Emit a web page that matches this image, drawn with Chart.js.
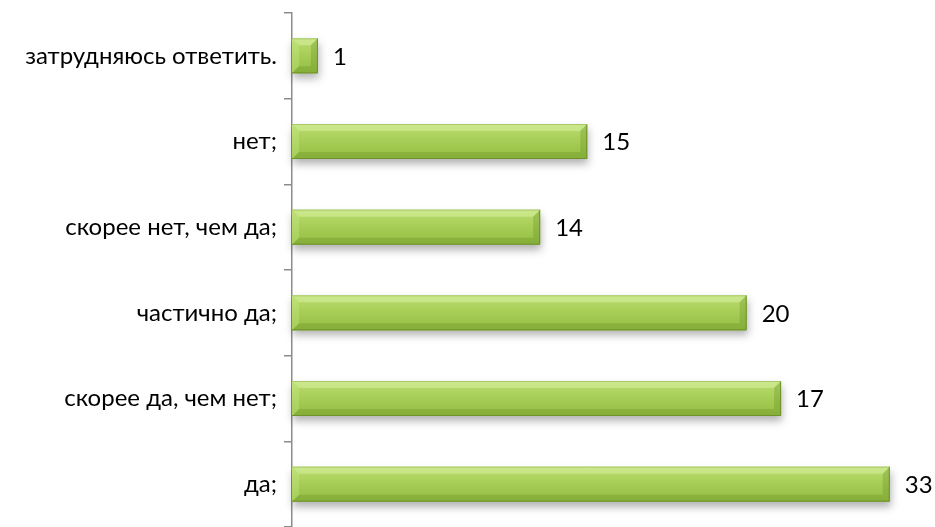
<!DOCTYPE html>
<html>
<head>
<meta charset="utf-8">
<script src="https://cdn.jsdelivr.net/npm/chart.js@4"></script>
<style>
  html, body { margin: 0; padding: 0; background: #fff; }
  #wrap { width: 935px; height: 527px; }
</style>
</head>
<body>
<div id="wrap"><canvas id="myChart"></canvas></div>
<script>
// categorias (de cima para baixo)
const categorias = [
  'затрудняюсь ответить.',
  'нет;',
  'скорее нет, чем да;',
  'частично да;',
  'скорее да, чем нет;',
  'да;'
];

// valores escritos ao lado das barras
const rotulos = [1, 15, 14, 20, 17, 33];

// comprimento das barras como aparece na figura (mesma escala do 33)
const comprimentos = [1.43, 16.3, 13.7, 25.1, 27.0, 33];

const fonte = "Lato, 'Open Sans', sans-serif";

// bisel e sombra das barras
const bisel = {
  id: 'bisel',
  afterDatasetsDraw(chart) {
    const ctx = chart.ctx;
    const meta = chart.getDatasetMeta(0);
    meta.data.forEach(function (bar, i) {
      const L = bar.base, R = bar.x;
      const T = bar.y - bar.height / 2, B = bar.y + bar.height / 2;
      const b = Math.min(7, (R - L) / 2);
      ctx.save();
      // sombra
      ctx.shadowColor = 'rgba(0,0,0,0.3)';
      ctx.shadowBlur = 8;
      ctx.shadowOffsetY = 5;
      ctx.shadowOffsetX = 1;
      const g = ctx.createLinearGradient(0, T, 0, B);
      g.addColorStop(0, '#bcdd70');
      g.addColorStop(0.5, '#a6cd55');
      g.addColorStop(1, '#93bd42');
      ctx.fillStyle = g;
      ctx.fillRect(L, T, R - L, B - T);
      ctx.restore();

      ctx.save();
      function face(pts, cor) {
        ctx.beginPath();
        ctx.moveTo(pts[0][0], pts[0][1]);
        for (let k = 1; k < pts.length; k++) ctx.lineTo(pts[k][0], pts[k][1]);
        ctx.closePath();
        ctx.fillStyle = cor;
        ctx.fill();
      }
      face([[L, T], [R, T], [R - b, T + b], [L + b, T + b]], 'rgba(215,240,160,0.55)');
      face([[L, B], [R, B], [R - b, B - b], [L + b, B - b]], 'rgba(110,150,40,0.35)');
      face([[L, T], [L + b, T + b], [L + b, B - b], [L, B]], 'rgba(200,235,140,0.35)');
      face([[R, T], [R - b, T + b], [R - b, B - b], [R, B]], 'rgba(100,140,35,0.3)');
      // borda escura embaixo e na direita
      ctx.strokeStyle = '#6f922a';
      ctx.lineWidth = 1;
      ctx.beginPath();
      ctx.moveTo(L, B - 0.5);
      ctx.lineTo(R - 0.5, B - 0.5);
      ctx.lineTo(R - 0.5, T);
      ctx.stroke();
      ctx.strokeStyle = '#a8c86a';
      ctx.beginPath();
      ctx.moveTo(L, T + 0.5);
      ctx.lineTo(R - 0.5, T + 0.5);
      ctx.stroke();

      // rotulo
      ctx.fillStyle = '#000';
      ctx.font = '24px ' + fonte;
      ctx.textBaseline = 'middle';
      ctx.textAlign = 'left';
      ctx.fillText(String(rotulos[i]), R + 15, bar.y + 1);
      ctx.restore();
    });
  }
};

const data = {
  labels: categorias,
  datasets: [{
    data: comprimentos,
    backgroundColor: 'rgba(0,0,0,0)',
    borderWidth: 0,
    barThickness: 35
  }]
};

const config = {
  type: 'bar',
  data: data,
  options: {
    indexAxis: 'y',
    responsive: true,
    maintainAspectRatio: false,
    animation: false,
    layout: { padding: { top: 13, right: 9, bottom: 0, left: 0 } },
    plugins: {
      legend: { display: false },
      tooltip: { enabled: false }
    },
    scales: {
      x: {
        display: false,
        min: 0,
        max: 35
      },
      y: {
        afterFit: function (scale) {
          scale.width = 292;
          scale.paddingTop = 0;
          scale.paddingBottom = 0;
        },
        border: { display: true, color: '#8c8c8c', width: 1.5 },
        grid: {
          display: true,
          drawOnChartArea: false,
          offset: true,
          tickLength: 8,
          color: '#8c8c8c',
          lineWidth: 1.5
        },
        ticks: {
          color: '#000',
          padding: 7,
          font: { family: fonte, size: 24 }
        }
      }
    }
  },
  plugins: [bisel]
};

const myChart = new Chart(document.getElementById('myChart'), config);
</script>
</body>
</html>
